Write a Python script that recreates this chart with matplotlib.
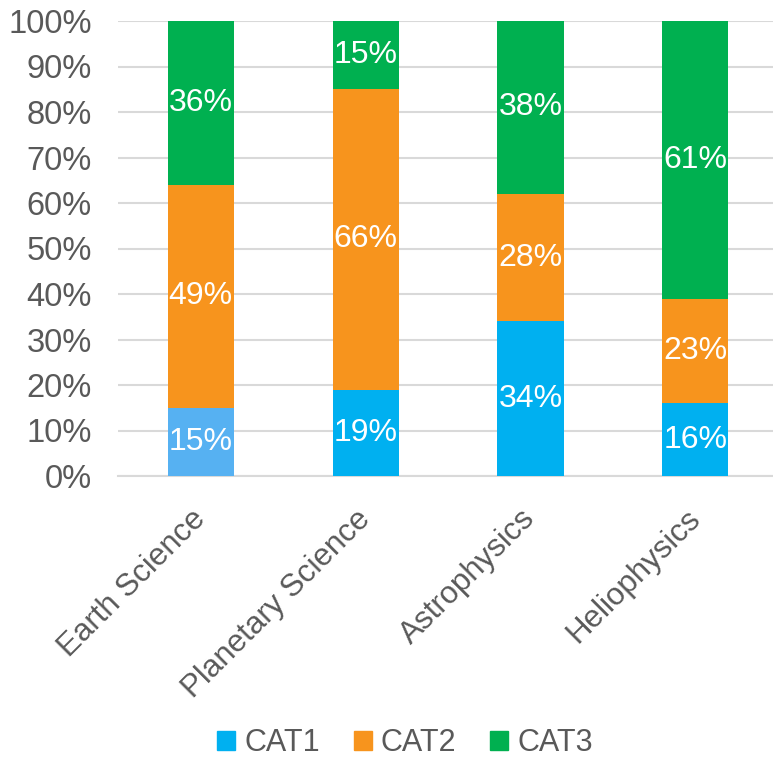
import matplotlib.pyplot as plt
import matplotlib.transforms as mtransforms
from matplotlib.patches import Patch

plt.rcParams['font.family'] = ['Liberation Sans', 'DejaVu Sans']

categories = ['Earth Science', 'Planetary Science', 'Astrophysics', 'Heliophysics']
series_names = ['CAT1', 'CAT2', 'CAT3']
cat1 = [15, 19, 34, 16]
cat2 = [49, 66, 28, 23]
cat3 = [36, 15, 38, 61]

colors = ['#00B0F0', '#F7941D', '#00B050']
cat1_colors = ['#56B1F2', '#00B0F0', '#00B0F0', '#00B0F0']
grey = '#595959'

fig = plt.figure(figsize=(7.73, 7.58), dpi=100)
ax = fig.add_axes([118 / 773, 1 - 476 / 758, 1 - 118 / 773, 455 / 758])

x = list(range(len(categories)))
w = 0.4
b1 = ax.bar(x, cat1, w, color=cat1_colors, zorder=3)
b2 = ax.bar(x, cat2, w, bottom=cat1, color=colors[1], zorder=3)
bottom3 = [a + b for a, b in zip(cat1, cat2)]
b3 = ax.bar(x, cat3, w, bottom=bottom3, color=colors[2], zorder=3)

for bars, vals in [(b1, cat1), (b2, cat2), (b3, cat3)]:
    for rect, v in zip(bars, vals):
        ax.text(rect.get_x() + rect.get_width() / 2, rect.get_y() + rect.get_height() / 2,
                f'{v}%', ha='center', va='center', color='white', fontsize=23, zorder=4)

ax.set_ylim(0, 100)
ax.set_xlim(-0.5, 3.5 - 5 / 165)
ax.set_yticks(range(0, 101, 10))
ax.set_yticklabels([f'{t}%' for t in range(0, 101, 10)])
ax.yaxis.grid(True, color='#D9D9D9', linewidth=1.5, zorder=0)
ax.set_axisbelow(True)
for s in ['top', 'right', 'left']:
    ax.spines[s].set_visible(False)
ax.spines['bottom'].set_color('#D9D9D9')
ax.spines['bottom'].set_linewidth(1.5)
ax.tick_params(axis='y', length=0, labelsize=23.5, colors=grey, pad=19)
ax.tick_params(axis='x', length=0, labelsize=22.5, colors=grey, pad=20)
ax.set_xticks(x)
ax.set_xticklabels(categories, rotation=45, ha='right', rotation_mode='anchor')
shift = mtransforms.ScaledTranslation(-10 / 100, 0, fig.dpi_scale_trans)
for lbl in ax.get_xticklabels():
    lbl.set_transform(lbl.get_transform() + shift)

handles = [Patch(color=c, label=n) for c, n in zip(colors, series_names)]
fig.legend(handles=handles, loc='center', bbox_to_anchor=(405 / 773, 1 - 743 / 758),
           ncol=3, frameon=False, fontsize=22, labelcolor=grey, borderpad=0.1,
           handlelength=0.6, handleheight=0.6, handletextpad=0.3, columnspacing=1.1)

fig.savefig('out.png', dpi=100)
